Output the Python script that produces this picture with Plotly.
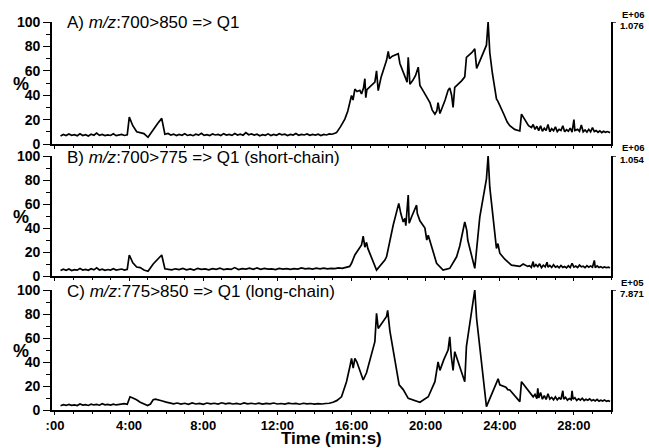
import plotly.graph_objects as go

W, H = 649, 448
FONT = "Liberation Sans, Arial, sans-serif"

# ---------------- data (time in minutes, intensity in %) ----------------
tA = [0.3,0.45,0.6,0.75,0.9,1.05,1.2,1.35,1.5,1.65,1.8,1.95,2.1,2.25,2.4,2.55,2.7,2.85,3.0,3.15,3.3,3.45,3.6,3.75,3.9,
      4.01,4.2,4.41,4.6,4.8,5.02,5.3,5.55,5.76,5.93,
      6.1,6.25,6.4,6.55,6.7,6.85,7.0,7.15,7.3,7.45,7.6,7.75,7.9,8.05,8.2,8.35,8.5,8.65,8.8,8.95,9.1,9.25,9.4,9.55,9.7,9.85,
      10.0,10.15,10.3,10.45,10.6,10.75,10.9,11.05,11.2,11.35,11.5,11.65,11.8,11.95,12.1,12.25,12.4,12.55,12.7,12.85,
      13.0,13.15,13.3,13.45,13.6,13.75,13.9,14.05,14.2,14.35,14.5,14.65,14.8,14.95,15.1,15.19,
      15.4,15.64,15.8,15.91,16.0,16.08,16.18,16.3,16.45,16.54,16.65,16.72,16.77,16.83,17.0,17.15,17.26,17.35,17.44,
      17.6,17.75,17.89,17.98,18.05,18.2,18.35,18.52,18.61,18.75,18.9,19.0,19.06,19.15,19.3,19.45,19.6,19.69,19.85,
      20.0,20.15,20.23,20.35,20.5,20.6,20.67,20.77,20.9,21.05,21.21,21.3,21.4,21.48,21.57,21.75,21.95,22.11,22.2,
      22.35,22.5,22.65,22.75,22.92,23.1,23.28,23.37,23.46,23.6,23.82,23.9,24.0,24.2,24.4,24.54,24.8,25.08,25.17,
      25.4,25.55,25.71,25.8,25.9,26.0,26.1,26.2,26.3,26.4,26.5,26.6,26.7,26.8,26.9,27.0,27.1,27.2,27.3,27.4,27.5,
      27.6,27.7,27.8,27.9,28.0,28.05,28.2,28.3,28.4,28.5,28.6,28.7,28.8,28.9,29.0,29.1,29.2,29.3,29.4,29.5,29.6,
      29.7,29.8,29.95]
vA = [6.5,7.8,6.9,8.2,7.1,7.6,6.8,8.4,7.0,7.7,6.6,8.0,7.2,9.0,7.1,7.8,6.9,7.5,7.0,8.3,6.8,7.4,7.9,7.0,7.6,
      22,15,10,9.5,8.5,5.5,12,17,21,8,
      8.6,7.4,8.1,6.9,7.8,7.2,8.4,7.0,7.6,6.8,8.0,7.3,8.8,7.1,7.7,6.9,8.2,7.4,7.9,7.0,8.5,7.3,7.8,7.1,8.6,7.4,
      8.0,7.2,9.4,7.6,8.2,7.3,8.0,6.8,7.7,7.1,8.3,7.0,7.9,7.2,8.4,7.5,8.1,7.0,7.8,7.3,
      8.6,7.2,7.9,7.4,8.2,7.1,7.8,7.3,8.1,7.0,7.9,7.4,8.3,8.0,8.8,9.3,
      14,20.4,27,34,39.7,36,45,43,44,41,46,53.5,38,44.6,47,49,50.7,60,43.8,
      55,63,68.6,76,70,72,73,74,66,60,55,50.7,71,49,52,56,63,48,44,
      40,36,34,28,24.5,27,34,25,30,36,44,46,40,30,46.5,49,52,55,71,
      73,75,78,62,68,75,81,100,75,58,37,35,32,25,18,15,12,10.7,24.5,
      18,15,13.5,16,12,14.5,11,15,10.5,13,11,16,10,12.5,10.8,14,10.2,12,11,15,10,
      11.8,10.5,13,9.8,20,11,12,10.4,15.5,10,11.5,9.8,12,10,13.5,10.2,11,9.6,10.8,9.4,10.5,
      9.6,10.2,9.3]

tB = [0.3,0.45,0.6,0.75,0.9,1.05,1.2,1.35,1.5,1.65,1.8,1.95,2.1,2.25,2.4,2.55,2.7,2.85,3.0,3.15,3.3,3.45,3.6,3.75,3.9,
      4.01,4.2,4.41,4.6,4.8,5.02,5.3,5.55,5.76,5.93,
      6.1,6.3,6.5,6.7,6.9,7.1,7.3,7.5,7.7,7.9,8.1,8.3,8.5,8.7,8.9,9.1,9.3,9.5,9.7,9.9,10.1,10.3,10.5,10.7,10.9,
      11.1,11.3,11.5,11.7,11.9,12.1,12.3,12.5,12.7,12.9,13.1,13.3,13.5,13.7,13.9,14.1,14.3,14.5,14.7,14.9,15.1,
      15.3,15.5,15.7,15.9,
      16.0,16.18,16.54,16.63,16.72,16.81,16.88,16.99,17.35,17.8,17.89,18.25,18.39,18.55,18.66,18.79,18.88,18.93,
      19.06,19.11,19.26,19.51,19.55,19.69,19.96,20.06,20.14,20.59,20.94,21.3,21.67,21.84,22.11,22.22,22.27,22.65,
      22.92,23.28,23.37,23.46,23.82,23.9,24.0,24.27,24.63,25.08,25.26,25.51,
      25.6,25.7,25.8,25.85,25.95,26.05,26.15,26.25,26.35,26.45,26.55,26.6,26.7,26.8,26.9,27.0,27.1,27.2,27.3,27.4,
      27.5,27.6,27.7,27.8,27.9,28.0,28.1,28.2,28.3,28.4,28.5,28.6,28.7,28.8,28.9,29.0,29.1,29.15,29.25,29.35,29.45,
      29.55,29.65,29.75,29.85,29.95]
vB = [4.5,5.6,4.8,5.9,4.6,5.3,4.9,6.2,5.0,5.5,4.7,6.0,5.1,6.8,5.0,5.7,4.8,5.4,5.0,6.1,4.9,5.3,5.8,5.0,5.6,
      17.5,11,7.5,7,5,4,10,14,17.5,6,
      5.8,5.1,6.0,5.4,6.3,5.2,5.9,5.0,6.4,5.5,5.9,5.2,6.1,5.6,6.6,5.3,6.0,5.5,7.0,5.4,6.2,5.7,6.5,5.5,6.8,
      5.6,6.3,5.8,6.0,5.4,6.4,5.7,6.2,5.6,6.1,5.8,6.7,5.9,6.3,5.7,6.5,6.0,6.6,5.9,6.4,6.1,
      6.8,6.3,7.2,8.0,
      10.6,17.5,25.8,33.3,24,28,23,19,5,13.3,16,42.5,50,60.5,52,45,48,42,
      67.5,44,50,59,52,46,40,30,34,10.6,5,6.4,16,25,45,38,30,6.4,
      49,81,100,74,23,27,19,14,9,8,10,8,
      8.6,7.2,12,7.5,9.5,7.8,10.2,7.0,9.0,7.6,11.5,7.4,8.8,7.1,9.4,7.3,8.2,6.9,8.8,7.2,
      7.9,6.8,8.5,7.0,10.6,7.4,8.3,7.0,9.1,7.6,8.1,6.9,8.6,7.3,8.4,7.4,13,7.0,8.4,7.1,7.8,
      6.8,7.6,6.9,7.3,6.9]

tC = [0.3,0.45,0.6,0.75,0.9,1.05,1.2,1.35,1.5,1.65,1.8,1.95,2.1,2.25,2.4,2.55,2.7,2.85,3.0,3.15,3.3,3.45,3.6,3.75,3.9,
      4.05,4.2,4.4,4.6,4.8,5.0,5.15,5.3,5.42,5.6,5.8,6.0,
      6.2,6.4,6.6,6.8,7.0,7.2,7.4,7.6,7.8,8.0,8.2,8.4,8.6,8.8,9.0,9.2,9.4,9.6,9.8,10.0,10.2,10.4,10.6,10.8,11.0,
      11.2,11.4,11.6,11.8,12.0,12.2,12.4,12.6,12.8,13.0,13.2,13.4,13.6,13.8,14.0,14.2,14.4,14.6,14.8,15.0,15.2,
      15.46,15.73,15.91,16.0,16.09,16.18,16.29,16.54,16.63,16.81,17.26,17.35,17.44,17.89,17.95,18.07,18.57,18.79,
      19.06,19.69,20.14,20.5,20.67,20.77,20.98,21.21,21.3,21.38,21.48,21.57,21.7,22.11,22.2,22.56,22.65,22.75,
      23.28,23.91,24.0,24.33,24.43,24.54,25.08,25.17,25.8,
      25.9,26.0,26.05,26.1,26.2,26.3,26.4,26.5,26.6,26.7,26.8,26.9,27.0,27.1,27.2,27.3,27.4,27.45,27.55,27.65,
      27.75,27.85,27.9,27.95,28.05,28.15,28.25,28.35,28.45,28.55,28.65,28.75,28.85,28.95,29.05,29.15,29.25,
      29.35,29.45,29.55,29.65,29.75,29.85,29.95]
vC = [3.6,4.4,3.8,4.7,3.9,4.3,3.7,5.0,4.1,4.5,3.8,4.8,4.2,4.6,4.0,5.2,4.3,4.7,4.1,4.9,4.2,4.6,4.4,5.3,4.8,
      11,10,8.6,6.5,5.0,3.8,5,8.5,9,8,7.5,6.6,
      6.0,5.2,5.8,4.9,5.6,4.8,5.9,5.0,5.5,4.7,5.8,5.1,5.6,4.9,6.0,5.2,5.7,5.0,5.5,4.8,5.9,5.1,5.6,5.0,5.7,
      4.9,5.5,5.1,5.8,5.0,5.4,4.9,5.7,5.2,5.5,4.8,5.6,5.1,5.4,4.9,5.3,5.0,5.4,5.6,6.5,7.8,
      11,23.6,36,43,35,43,40,29,25,31,57,80.5,68,78,83,66,21,17,
      9.7,6.4,11,23.6,40,33,42,50,61,45,33,48.6,43,23.6,53,89,100,76,
      2.8,26,21,19,17,16.7,7,23.6,11,
      13,9.5,18,10,14.5,9,12,8.8,13.5,9.2,10.5,8.6,11,8.4,10.2,8.8,16,9,10.5,8.2,
      9.6,8.5,16,9,10.2,8.0,9.4,8.3,9.8,7.9,9.0,8.1,9.3,7.8,8.6,7.6,8.8,
      7.4,8.2,7.5,8.4,7.2,7.8,7.0]

panel_titles = ["A) <i>m/z</i>:700>850 => Q1",
                "B) <i>m/z</i>:700>775 => Q1 (short-chain)",
                "C) <i>m/z</i>:775>850 => Q1 (long-chain)"]
scale_exp = ["E+06", "E+06", "E+05"]
scale_max = ["1.076", "1.054", "7.871"]
x_tick_vals = [0, 4, 8, 12, 16, 20, 24, 28]
x_tick_text = [":00", "4:00", "8:00", "12:00", "16:00", "20:00", "24:00", "28:00"]
y_tick_vals = [0, 20, 40, 60, 80, 100]
y_minor_vals = [10, 30, 50, 70, 90]
x_title = "Time (min:s)"
y_title = "%"

series = [(tA, vA), (tB, vB), (tC, vC)]

# ---------------- layout geometry (pixels) ----------------
tops = [22, 156, 290]
bottoms = [144, 276, 410]
XL, XR = 52, 611


def fy(ypx):
    return 1 - ypx / H


def fx(xpx):
    return xpx / W


fig = go.Figure()
layout = dict(width=W, height=H, autosize=False, margin=dict(l=0, r=0, t=0, b=0, pad=0),
              paper_bgcolor="white", plot_bgcolor="white", showlegend=False,
              font=dict(family=FONT, color="black"))
annotations = []
shapes = []

for i, (t, v) in enumerate(series):
    n = "" if i == 0 else str(i + 1)
    fig.add_trace(go.Scatter(x=t, y=v, xaxis="x" + n, yaxis="y" + n, mode="lines",
                             line=dict(color="black", width=1.7), hoverinfo="skip"))
    last = (i == 2)
    layout["xaxis" + n] = dict(
        domain=[fx(XL), fx(XR)], range=[-0.16, 30.0], anchor="y" + n,
        showline=True, linecolor="black", linewidth=1.6,
        ticks="outside", tickmode="array", tickvals=x_tick_vals, ticktext=x_tick_text,
        ticklen=3, tickwidth=1.3, tickcolor="black",
        showticklabels=last, showgrid=False, zeroline=False, automargin=False,
        tickfont=dict(family=FONT, size=13, color="black", weight="bold"),
        minor=dict(tickmode="linear", tick0=0, dtick=1, ticks="outside",
                   ticklen=2, tickwidth=1, tickcolor="black", showgrid=False),
    )
    layout["yaxis" + n] = dict(
        domain=[fy(bottoms[i]), fy(tops[i])], range=[0, 100], anchor="x" + n,
        showline=True, mirror=True, linecolor="black", linewidth=1.6,
        ticks="outside", tickmode="array", tickvals=y_tick_vals,
        ticklen=7, tickwidth=1.3, tickcolor="black",
        showgrid=False, zeroline=False, automargin=False,
        tickfont=dict(family=FONT, size=14, color="black", weight="bold"),
        minor=dict(tickmode="array", tickvals=y_minor_vals, ticks="outside",
                   ticklen=4, tickwidth=1, tickcolor="black", showgrid=False),
    )
    annotations.append(dict(text=panel_titles[i], x=fx(65), y=fy(tops[i] + 1),
                            xref="paper", yref="paper", xanchor="left", yanchor="middle",
                            showarrow=False, font=dict(family=FONT, size=17, color="black")))
    annotations.append(dict(text=y_title, x=fx(21), y=fy((tops[i] + bottoms[i]) / 2 + 1),
                            xref="paper", yref="paper", xanchor="center", yanchor="middle",
                            showarrow=False, font=dict(family=FONT, size=18, color="black", weight="bold")))
    annotations.append(dict(text=scale_exp[i], x=fx(646), y=fy(tops[i] - 8),
                            xref="paper", yref="paper", xanchor="right", yanchor="middle",
                            showarrow=False, font=dict(family=FONT, size=9.5, color="black", weight="bold")))
    annotations.append(dict(text=scale_max[i], x=fx(646), y=fy(tops[i] + 3.5),
                            xref="paper", yref="paper", xanchor="right", yanchor="middle",
                            showarrow=False, font=dict(family=FONT, size=9.5, color="black", weight="bold")))
    shapes.append(dict(type="line", xref="x" + n + " domain", yref="y" + n,
                       x0=1, x1=1 + 5 / (XR - XL), y0=100, y1=100,
                       line=dict(color="black", width=1.4)))

annotations.append(dict(text=x_title, x=fx((XL + XR) / 2), y=fy(438),
                        xref="paper", yref="paper", xanchor="center", yanchor="middle",
                        showarrow=False, font=dict(family=FONT, size=17, color="black", weight="bold")))

layout["annotations"] = annotations
layout["shapes"] = shapes
fig.update_layout(**layout)

post = ("var gd=document.getElementById('{plot_id}');"
        "document.documentElement.style.margin='0';document.documentElement.style.padding='0';"
        "document.body.style.margin='0';document.body.style.padding='0';"
        "gd.style.position='fixed';gd.style.left='0px';gd.style.top='0px';")
fig.write_html("out.html",
               config={"displayModeBar": False, "responsive": False},
               post_script=post)
